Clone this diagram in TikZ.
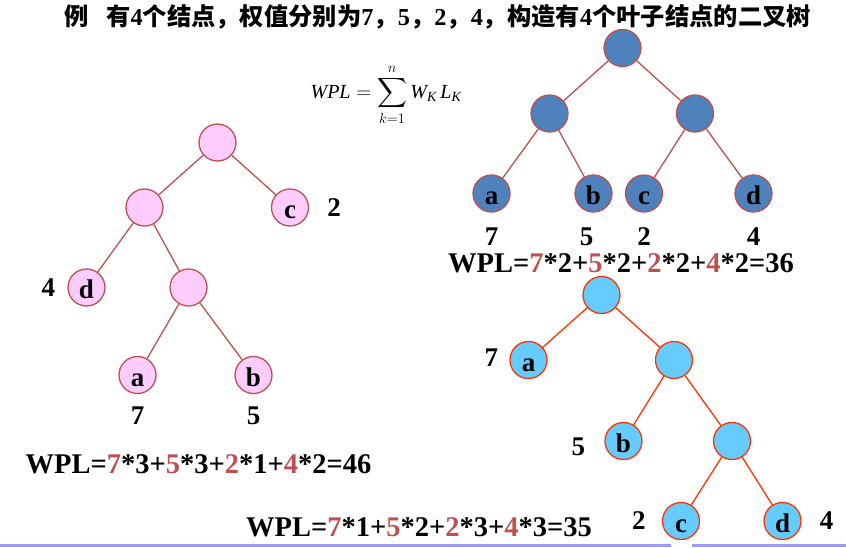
\documentclass[tikz,border=0pt]{standalone}
\usepackage{amsmath}
\usepackage{fontspec}
\setmainfont{Liberation Serif}
\newfontfamily\cjk{Noto Sans CJK SC}
\usetikzlibrary{positioning}
\definecolor{cPk}{HTML}{FFCCFF}
\definecolor{cDk}{HTML}{4F81BD}
\definecolor{cLb}{HTML}{66CCFF}
\definecolor{cRd}{HTML}{C0504D}
\definecolor{cOr}{HTML}{FF3300}
\definecolor{cLn}{HTML}{9999FF}
\newcommand{\ti}[1]{\text{\itshape #1}}

\begin{document}
\begin{tikzpicture}[
    x=1pt, y=-1pt,
    nd/.style={circle, minimum size=37pt, inner sep=0pt, line width=1.3pt,
               text height=22pt, text depth=0pt,
               font=\fontsize{27}{27}\selectfont\bfseries},
    npk/.style={nd, fill=cPk, draw=cRd},
    ndk/.style={nd, fill=cDk, draw=cRd},
    nlb/.style={nd, fill=cLb, draw=cOr},
    epk/.style={draw=cRd, line width=1.3pt},
    elb/.style={draw=cOr, line width=1.3pt},
    wt/.style={inner sep=0pt, font=\fontsize{27}{27}\selectfont\bfseries},
    wpl/.style={inner sep=0pt, font=\fontsize{28.5}{28.5}\selectfont\bfseries},
]
\useasboundingbox (0,0) rectangle (846,547);

% === title and formula ===
\node[font=\fontsize{24.3}{24.3}\selectfont\bfseries] (title) at (438,17)
  {{\cjk 例}\hspace{0.7em}{\cjk 有}4{\cjk 个结点，权值分别为}7{\cjk ，}5{\cjk ，}2{\cjk ，}4{\cjk ，构造有}4{\cjk 个叶子结点的二叉树}};
\node[font=\fontsize{20}{20}\selectfont] (frm) at (386,95)
  {$\displaystyle \ti{WPL}=\sum_{k=1}^{n}\ti{W}_{\ti{K}}\,\ti{L}_{\ti{K}}$};

% === LEFT: pink tree, WPL=46 ===
\node[npk] (pr) at (217.5,142.5) {};
\node[npk] (pl) at (144.5,207.5) {};
\node[npk] (pc) at (290,207.5) {c};
\node[npk] (pd) at (86.5,287.5) {d};
\node[npk] (pm) at (188.5,287.5) {};
\node[npk] (pa) at (137.5,375) {a};
\node[npk] (pb) at (253.5,375) {b};

\node[wt, right=18pt of pc] {2};
\node[wt, left=12pt of pd] {4};
\node[wt, below=12pt of pa] {7};
\node[wt, below=12pt of pb] {5};

\draw[epk] (pr) -- (pl);
\draw[epk] (pr) -- (pc);
\draw[epk] (pl) -- (pd);
\draw[epk] (pl) -- (pm);
\draw[epk] (pm) -- (pa);
\draw[epk] (pm) -- (pb);

\node[wpl] (w46) at (198.5,464)
  {WPL=\textcolor{cRd}{7}*3+\textcolor{cRd}{5}*3+\textcolor{cRd}{2}*1+\textcolor{cRd}{4}*2=46};

% === TOP RIGHT: dark blue tree, WPL=36 ===
\node[ndk] (dr) at (622.5,48) {};
\node[ndk] (dl) at (549.5,113.5) {};
\node[ndk] (dm) at (695,113.5) {};
\node[ndk] (da) at (491.5,193.5) {a};
\node[ndk] (db) at (593.5,193.5) {b};
\node[ndk] (dc) at (644,193.5) {c};
\node[ndk] (dd) at (753.5,193.5) {d};

\node[wt, below=15pt of da] {7};
\node[wt, below=15pt of db, xshift=-7pt] {5};
\node[wt, below=15pt of dc] {2};
\node[wt, below=15pt of dd] {4};

\draw[epk] (dr) -- (dl);
\draw[epk] (dr) -- (dm);
\draw[epk] (dl) -- (da);
\draw[epk] (dl) -- (db);
\draw[epk] (dm) -- (dc);
\draw[epk] (dm) -- (dd);

\node[wpl] (w36) at (621,263)
  {WPL=\textcolor{cRd}{7}*2+\textcolor{cRd}{5}*2+\textcolor{cRd}{2}*2+\textcolor{cRd}{4}*2=36};

% === BOTTOM RIGHT: light blue tree, WPL=35 ===
\node[nlb] (lr) at (601.5,295) {};
\node[nlb] (la) at (528.5,360) {a};
\node[nlb] (l2) at (674,360) {};
\node[nlb] (lb) at (623.5,441) {b};
\node[nlb] (l3) at (732,441) {};
\node[nlb] (lc) at (681,521) {c};
\node[nlb] (ld) at (782.5,521) {d};

\node[wt, left=11pt of la, yshift=2pt] {7};
\node[wt, left=19pt of lb, yshift=-6pt] {5};
\node[wt, left=16pt of lc] {2};
\node[wt, right=18pt of ld] {4};

\draw[elb] (lr) -- (la);
\draw[elb] (lr) -- (l2);
\draw[elb] (l2) -- (lb);
\draw[elb] (l2) -- (l3);
\draw[elb] (l3) -- (lc);
\draw[elb] (l3) -- (ld);

\node[wpl] (w35) at (419,527)
  {WPL=\textcolor{cRd}{7}*1+\textcolor{cRd}{5}*2+\textcolor{cRd}{2}*3+\textcolor{cRd}{4}*3=35};

% slide rule at the bottom
\draw[cLn, line width=3pt] (0,545.5) -- (671,545.5);
\draw[cLn, line width=3pt] (692,545.5) -- (846,545.5);

\end{tikzpicture}
\end{document}
